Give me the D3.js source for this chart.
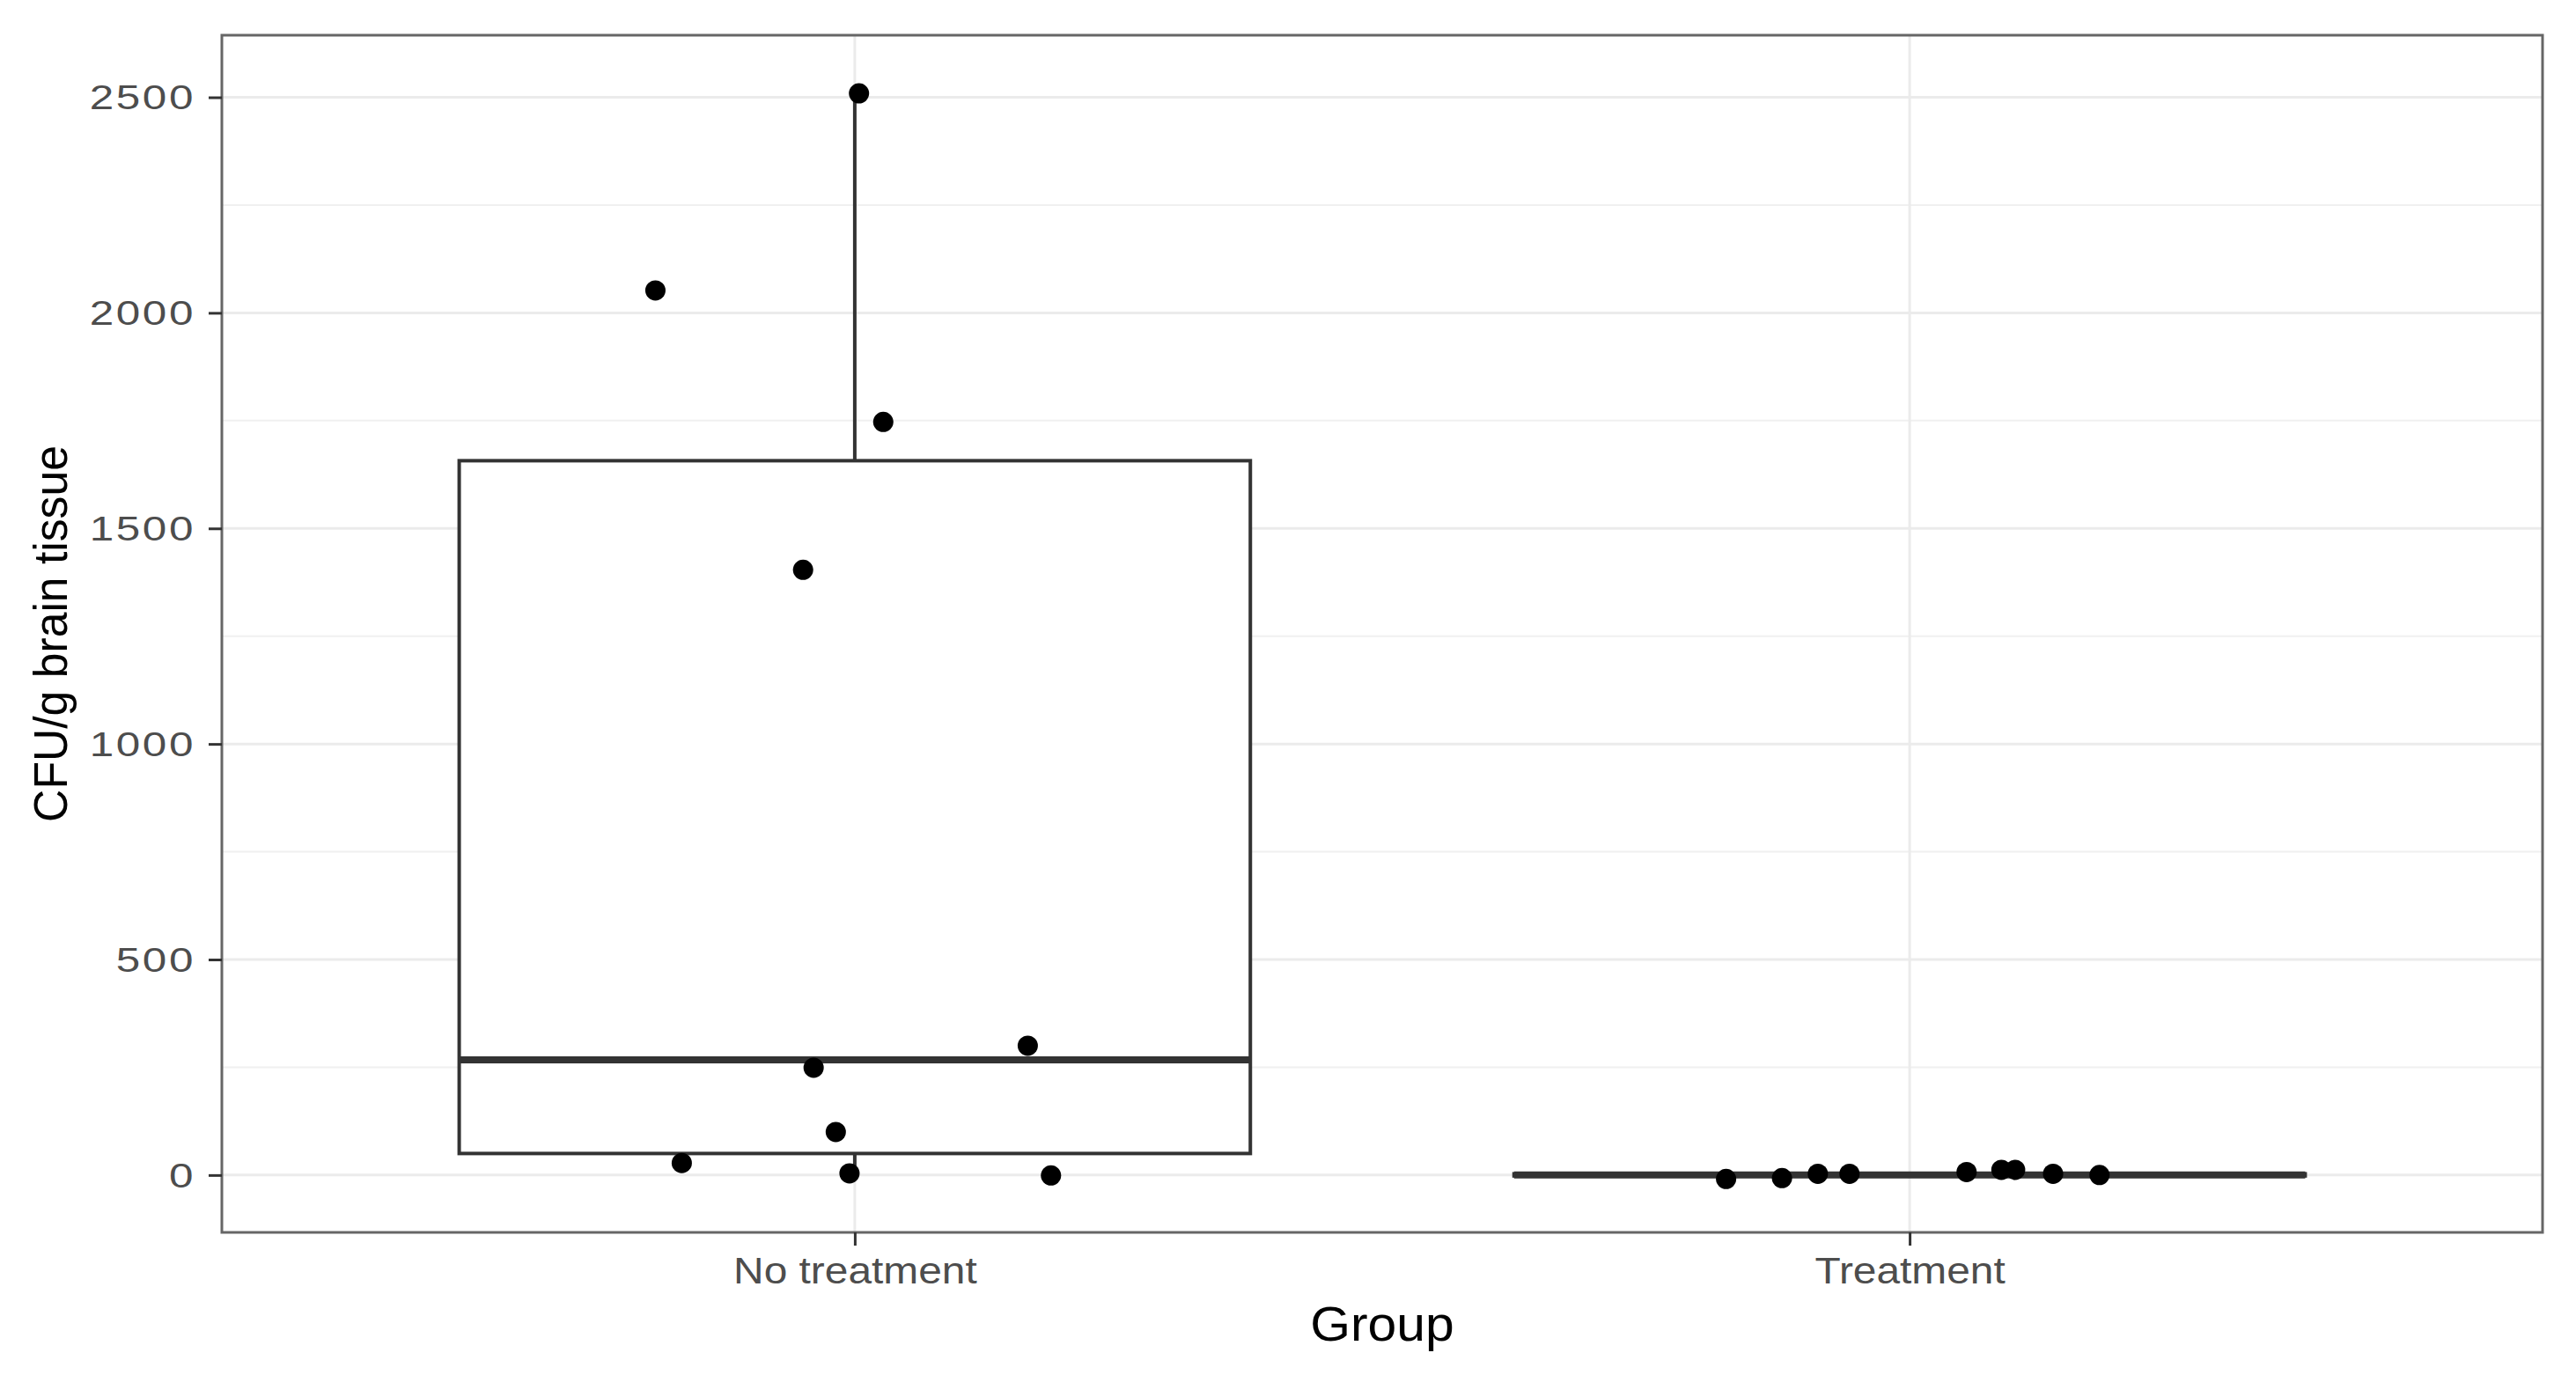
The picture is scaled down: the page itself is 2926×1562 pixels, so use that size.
<!DOCTYPE html>
<html>
<head>
<meta charset="utf-8">
<script src="https://cdn.jsdelivr.net/npm/d3@7"></script>
<style>
  html, body { margin: 0; padding: 0; background: #ffffff; }
  svg { display: block; }
  text { font-family: "Liberation Sans", Arial, Helvetica, sans-serif; }
</style>
</head>
<body>
<svg id="chart" width="2926" height="1562"></svg>
<script>
// ---------------- data ----------------
const categories = ["No treatment", "Treatment"];

// individual (jittered) observations, CFU/g brain tissue
const noTreatmentValues = [2509, 2052, 1747, 1404, 300, 249, 100, 28, 4, -1];
const noTreatmentJitter = [0.004, -0.189, 0.027, -0.049, 0.164, -0.039, -0.018, -0.164, -0.005, 0.186];
const treatmentValues = [-9, -7, 3, 3, 7, 12, 12, 3, 0];
const treatmentJitter = [-0.174, -0.121, -0.087, -0.057, 0.054, 0.087, 0.100, 0.136, 0.180];

// box statistics [lower whisker, Q1, median, Q3, upper whisker]
const noTreatmentBox = [4, 50, 267, 1657, 2509];
const treatmentBox = [-2, -2, 0, 3, 5];

const yTicks = [0, 500, 1000, 1500, 2000, 2500];
const yMinorTicks = [250, 750, 1250, 1750, 2250];
const yDomain = [-133, 2644];

const xTitle = "Group";
const yTitle = "CFU/g brain tissue";

// ---------------- layout ----------------
const panel = { left: 252, right: 2888, top: 40, bottom: 1400 };
const svg = d3.select("#chart");

const x = d3.scalePoint()
  .domain(categories)
  .range([panel.left, panel.right])
  .padding(0.6);
const step = x.step();

const y = d3.scaleLinear()
  .domain(yDomain)
  .range([panel.bottom, panel.top]);

const boxWidth = 0.75 * step;

// ---------------- panel background & grid ----------------
svg.append("rect")
  .attr("x", panel.left).attr("y", panel.top)
  .attr("width", panel.right - panel.left)
  .attr("height", panel.bottom - panel.top)
  .attr("fill", "#ffffff");

const grid = svg.append("g");
grid.selectAll("line.minor")
  .data(yMinorTicks).join("line")
  .attr("class", "minor")
  .attr("x1", panel.left).attr("x2", panel.right)
  .attr("y1", d => y(d)).attr("y2", d => y(d))
  .attr("stroke", "#f0f0f0").attr("stroke-width", 2);
grid.selectAll("line.majory")
  .data(yTicks).join("line")
  .attr("class", "majory")
  .attr("x1", panel.left).attr("x2", panel.right)
  .attr("y1", d => y(d)).attr("y2", d => y(d))
  .attr("stroke", "#ebebeb").attr("stroke-width", 3);
grid.selectAll("line.majorx")
  .data(categories).join("line")
  .attr("class", "majorx")
  .attr("x1", d => x(d)).attr("x2", d => x(d))
  .attr("y1", panel.top).attr("y2", panel.bottom)
  .attr("stroke", "#ebebeb").attr("stroke-width", 3);

// ---------------- boxplots ----------------
const boxes = [
  { cat: categories[0], s: noTreatmentBox },
  { cat: categories[1], s: treatmentBox }
];
const boxG = svg.append("g");
boxes.forEach(b => {
  const cx = x(b.cat);
  const [lo, q1, med, q3, hi] = b.s;
  const g = boxG.append("g");
  // whiskers
  g.append("line")
    .attr("x1", cx).attr("x2", cx)
    .attr("y1", y(q3)).attr("y2", y(hi))
    .attr("stroke", "#333333").attr("stroke-width", 4);
  g.append("line")
    .attr("x1", cx).attr("x2", cx)
    .attr("y1", y(q1)).attr("y2", y(lo))
    .attr("stroke", "#333333").attr("stroke-width", 4);
  // box
  g.append("rect")
    .attr("x", cx - boxWidth / 2)
    .attr("y", y(q3))
    .attr("width", boxWidth)
    .attr("height", Math.max(0, y(q1) - y(q3)))
    .attr("fill", "#ffffff")
    .attr("stroke", "#333333").attr("stroke-width", 4);
  // median
  g.append("line")
    .attr("x1", cx - boxWidth / 2).attr("x2", cx + boxWidth / 2)
    .attr("y1", y(med)).attr("y2", y(med))
    .attr("stroke", "#333333").attr("stroke-width", 8);
});

// ---------------- points ----------------
const points = [];
noTreatmentValues.forEach((v, i) => points.push({ cat: categories[0], v, j: noTreatmentJitter[i] }));
treatmentValues.forEach((v, i) => points.push({ cat: categories[1], v, j: treatmentJitter[i] }));

svg.append("g").selectAll("circle")
  .data(points).join("circle")
  .attr("cx", d => x(d.cat) + d.j * step)
  .attr("cy", d => y(d.v))
  .attr("r", 11.5)
  .attr("fill", "#000000");

// ---------------- panel border ----------------
svg.append("rect")
  .attr("x", panel.left).attr("y", panel.top)
  .attr("width", panel.right - panel.left)
  .attr("height", panel.bottom - panel.top)
  .attr("fill", "none")
  .attr("stroke", "#666666").attr("stroke-width", 3);

// ---------------- axes ----------------
const yAxis = svg.append("g")
  .attr("transform", `translate(${panel.left},0)`)
  .call(d3.axisLeft(y).tickValues(yTicks).tickSize(15).tickPadding(0).tickFormat(d3.format("d")));
yAxis.select(".domain").remove();
yAxis.selectAll(".tick line").attr("stroke", "#333333").attr("stroke-width", 3);
yAxis.selectAll(".tick text")
  .attr("x", 0).attr("dy", null)
  .attr("dominant-baseline", "central")
  .attr("text-anchor", "end")
  .attr("fill", "#4d4d4d")
  .attr("font-size", 38)
  .attr("letter-spacing", 2)
  .attr("transform", "translate(-30,0) scale(1.3,1)")
  .style("font-family", "'Liberation Sans', Arial, sans-serif");

const xAxis = svg.append("g")
  .attr("transform", `translate(0,${panel.bottom})`)
  .call(d3.axisBottom(x).tickSize(15).tickPadding(0));
xAxis.select(".domain").remove();
xAxis.selectAll(".tick line").attr("stroke", "#333333").attr("stroke-width", 3);
xAxis.selectAll(".tick text")
  .attr("y", 0).attr("dy", null)
  .attr("fill", "#4d4d4d")
  .attr("font-size", 42)
  .attr("text-anchor", "middle")
  .attr("transform", "translate(0,58) scale(1.14,1)")
  .style("font-family", "'Liberation Sans', Arial, sans-serif");

// ---------------- titles ----------------
svg.append("text")
  .attr("transform", `translate(${(panel.left + panel.right) / 2},1523) scale(1.07,1)`)
  .attr("text-anchor", "middle")
  .attr("font-size", 55)
  .attr("fill", "#000000")
  .text(xTitle);

svg.append("text")
  .attr("transform", `translate(76,${(panel.top + panel.bottom) / 2}) rotate(-90) scale(0.957,1)`)
  .attr("text-anchor", "middle")
  .attr("font-size", 54)
  .attr("fill", "#000000")
  .text(yTitle);
</script>
</body>
</html>
